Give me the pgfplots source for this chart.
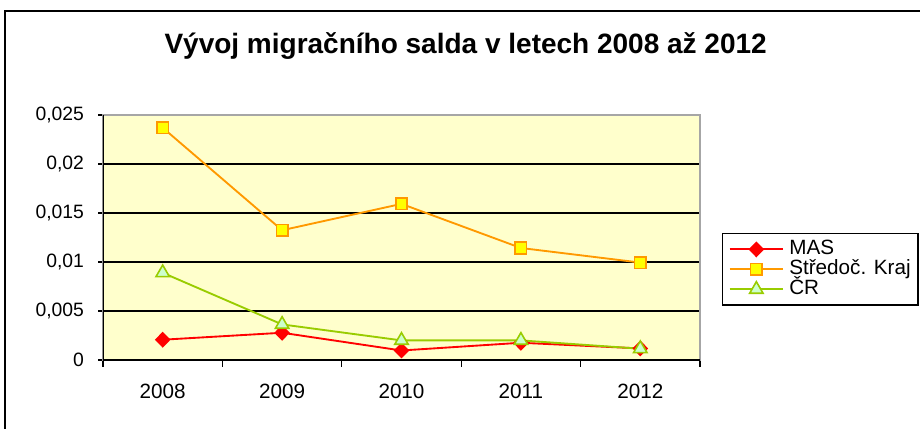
\documentclass[border=0pt]{standalone}
\usepackage{fontspec}
\setmainfont{Liberation Sans}
\usepackage{pgfplots}
\pgfplotsset{compat=1.18}
\definecolor{masred}{HTML}{FF0000}
\definecolor{stred}{HTML}{FF9900}
\definecolor{stfill}{HTML}{FFFF00}
\definecolor{crgreen}{HTML}{99CC00}
\definecolor{crfill}{HTML}{CCFFCC}
\definecolor{plotbg}{HTML}{FFFFCC}

\begin{document}
\begin{tikzpicture}
% whole picture: 920x428 px at 0.75pt per px, origin = lower left of plot area
\useasboundingbox (-77.25pt,-51pt) rectangle (612.75pt,270pt);
\draw[line width=1.5pt] (-73.5pt,-60pt) -- (-73.5pt,261.75pt) -- (620pt,261.75pt);
\node[font=\fontsize{21}{24}\selectfont\bfseries] at (272pt,235.5pt)
  {Vývoj migračního salda v letech 2008 až 2012};

\begin{axis}[
  at={(0pt,0pt)}, anchor=south west,
  scale only axis, width=447.75pt, height=183.75pt,
  xmin=0.5, xmax=5.5, ymin=0, ymax=0.025,
  axis background/.style={fill=plotbg},
  axis line style={draw=gray!70, line width=1.3pt},
  xtick={1,2,3,4,5}, xticklabels={2008,2009,2010,2011,2012},
  minor xtick={0.5,1.5,2.5,3.5,4.5,5.5},
  major x tick style={draw=none},
  minor x tick style={black, line width=1pt},
  minor tick length=5pt,
  ytick={0,0.005,0.01,0.015,0.02,0.025},
  major y tick style={black, line width=1pt},
  major tick length=3.75pt,
  tick align=outside,
  xtick pos=bottom, ytick pos=left,
  scaled y ticks=false,
  /pgf/number format/assume math mode=true,
  yticklabel style={font=\fontsize{14.5}{16}\selectfont, xshift=-7pt,
    /pgf/number format/.cd, fixed, precision=3, use comma},
  xticklabel style={font=\fontsize{15.5}{17}\selectfont, yshift=-11pt},
  ymajorgrids, major grid style={black, line width=1.3pt},
  legend style={at={(1.0369,0.5184)}, anchor=north west, draw=black,
    line width=1.1pt, font=\fontsize{15.5}{17}\selectfont,
    inner sep=4.5pt, row sep=0.5pt, column sep=3pt,
    nodes={text height=10pt, text depth=2.5pt, inner sep=1pt}},
  legend cell align=left,
  legend image code/.code={\draw[mark repeat=2,mark phase=2]
    plot coordinates {(0pt,0pt) (20pt,0pt) (40pt,0pt)};},
]

% MAS
\addplot[color=masred, line width=1.4pt, mark=diamond*, mark size=5pt,
  mark options={fill=masred, xscale=1.3, solid}] coordinates {
  (1,0.00207) (2,0.00278) (3,0.00097) (4,0.00176) (5,0.00118)
};

% Stredoc. Kraj
\addplot[color=stred, line width=1.4pt, mark=square*, mark size=4.3pt,
  mark options={fill=stfill, draw=stred, line width=1.2pt}] coordinates {
  (1,0.0237) (2,0.01324) (3,0.01593) (4,0.01143) (5,0.00994)
};

% CR
\addplot[color=crgreen, line width=1.4pt, mark=triangle*, mark size=5.8pt,
  mark options={fill=crfill, draw=crgreen, line width=1.2pt}] coordinates {
  (1,0.0089) (2,0.00363) (3,0.0020) (4,0.0020) (5,0.00115)
};

\draw[black, line width=1.5pt] (rel axis cs:0,1) -- (rel axis cs:0,0) -- (rel axis cs:1,0);

\legend{MAS, Středoč. Kraj, ČR}
\end{axis}
\end{tikzpicture}
\end{document}
